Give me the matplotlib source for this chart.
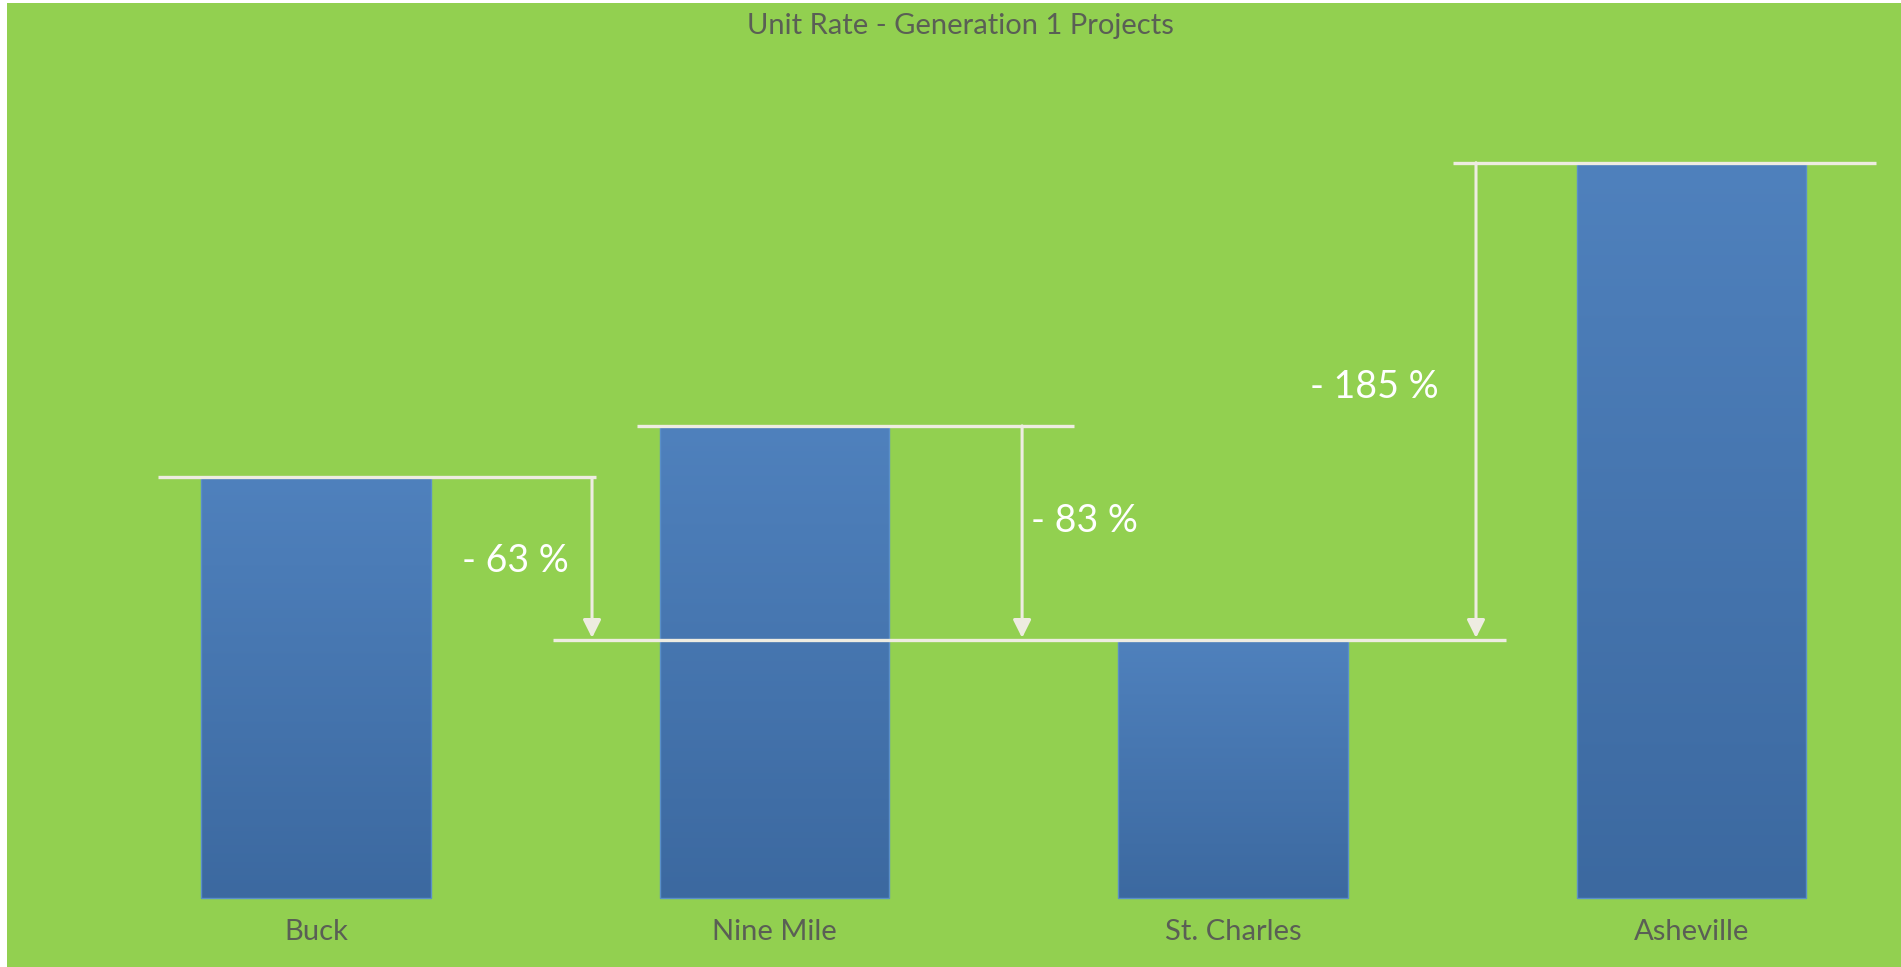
import numpy as np
import matplotlib.pyplot as plt
from matplotlib.patches import Rectangle

plt.rcParams['font.family'] = ['Lato', 'DejaVu Sans']

# data (relative unit rate, St. Charles = reference)
categories = ["Buck", "Nine Mile", "St. Charles", "Asheville"]
unit_rate = [1.63, 1.83, 1.00, 2.85]
ref_index = 2
title = "Unit Rate - Generation 1 Projects"

# annotation layout: bar index -> (line start, line end, arrow x, label x, label y, ha)
notes = {
    0: (-0.345, 0.611, 0.602, 0.552, 1.306, 'right'),
    1: (-0.300, 0.653, 0.540, 0.560, 1.461, 'left'),
    3: (-0.520, 0.402, -0.470, -0.552, 1.980, 'right'),
}

green = '#92D050'
cream = '#EEECE1'
bar_top = np.array([0x4F, 0x81, 0xBD]) / 255
bar_bot = np.array([0x3C, 0x69, 0xA0]) / 255

W, H = 1901, 967
fig = plt.figure(figsize=(W / 100, H / 100), dpi=100)
fig.patch.set_facecolor('white')
fig.patches.append(Rectangle((7 / W, 0), 1, 1 - 3 / H, transform=fig.transFigure,
                             facecolor=green, edgecolor='none', zorder=-1))

ax = fig.add_axes([0, 0, 1, 1])
ax.set_zorder(1)
ax.patch.set_alpha(0)
ax.axis('off')

x = np.arange(len(categories))
bars = ax.bar(x, unit_rate, width=0.5, color='none', edgecolor='#5a8fc8',
              linewidth=1.0, zorder=3)

# vertical gradient fill for each bar
grad = np.linspace(0, 1, 256)[:, None, None]
grad_img = bar_top + (bar_bot - bar_top) * grad
for b in bars:
    ax.imshow(grad_img, extent=(b.get_x(), b.get_x() + b.get_width(), 0, b.get_height()),
              aspect='auto', zorder=2, interpolation='bilinear')

# category labels
for i, name in enumerate(categories):
    ax.text(i, -0.132, name, ha='center', va='center', fontsize=21, color='#5a5f55')

# reference line at St. Charles level
ref = unit_rate[ref_index]
ax.plot([ref_index - 1.483, ref_index + 0.595], [ref, ref], color=cream, lw=2.4,
        solid_capstyle='butt', zorder=4)

for i, (x0, x1, xa, xl, yl, ha) in notes.items():
    v = unit_rate[i]
    ax.plot([i + x0, i + x1], [v, v], color=cream, lw=2.4, solid_capstyle='butt', zorder=4)
    ax.annotate('', xy=(i + xa, ref + 0.008), xytext=(i + xa, v),
                arrowprops=dict(arrowstyle='-|>', color=cream, lw=2.2,
                                mutation_scale=27, shrinkA=0, shrinkB=0), zorder=4)
    pct = round((v / ref - 1) * 100)
    ax.text(i + xl, yl, f"- {pct} %", ha=ha, va='center', fontsize=27, color='white')

fig.text(960 / W, 1 - 26 / H, title, ha='center', va='center', fontsize=21,
         color='#5a5f55', zorder=5)

ax.set_xlim(-316 / 458.5, (W - 316) / 458.5)
ax.set_ylim(-69 / 258, (H - 69) / 258)

fig.savefig('out.png', dpi=100, facecolor=fig.get_facecolor())
